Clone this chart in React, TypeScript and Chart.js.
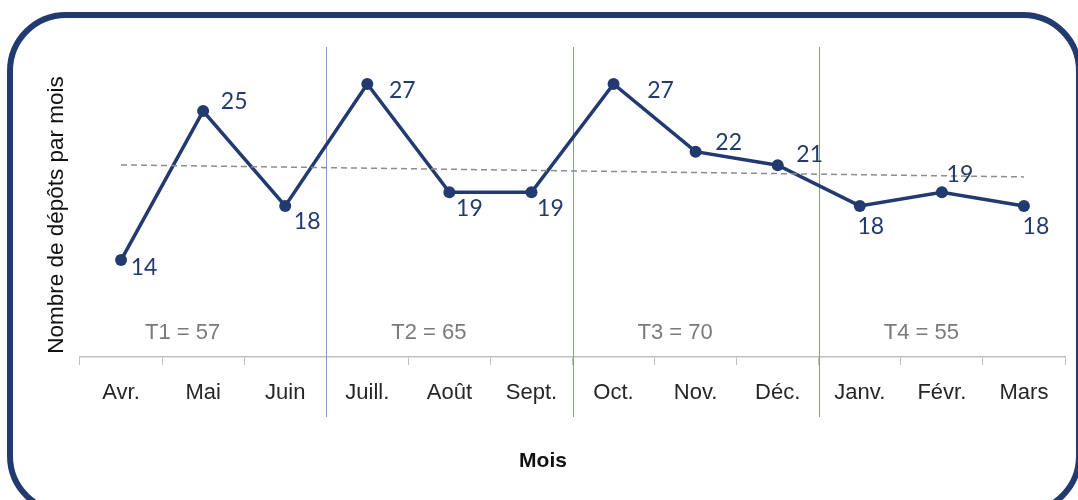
import React, { useEffect, useRef } from 'react';
import { Chart, registerables } from 'chart.js';

Chart.register(...registerables);

// ---- data ----
const months = ['Avr.', 'Mai', 'Juin', 'Juill.', 'Août', 'Sept.', 'Oct.', 'Nov.', 'Déc.', 'Janv.', 'Févr.', 'Mars'];
const deposits = [14, 25, 18, 27, 19, 19, 27, 22, 21, 18, 19, 18];
const quarterNames = ['T1', 'T2', 'T3', 'T4'];
const quarterTotals = [57, 65, 70, 55];
const yAxisTitle = 'Nombre de dépôts par mois';
const xAxisTitle = 'Mois';

// linear trend line (least squares over the monthly values), drawn between first and last month
const n = deposits.length;
const meanX = (n - 1) / 2;
const meanY = deposits.reduce((a, b) => a + b, 0) / n;
let sxy = 0;
let sxx = 0;
deposits.forEach((v, i) => {
  sxy += (i - meanX) * (v - meanY);
  sxx += (i - meanX) * (i - meanX);
});
const slope = sxy / sxx;
const intercept = meanY - slope * meanX;
const trend = deposits.map((_, i) => (i === 0 || i === n - 1 ? intercept + slope * i : null));

// ---- styles ----
const NAVY = '#223a6f';
const SEP = '#8796c6';
const labelOffsets: [number, number][] = [
  [23, 7], [31, -9], [22, 16], [35, 7], [20, 16], [19, 16],
  [47, 7], [33, -9], [32, -11], [11, 21], [18, -18], [12, 21],
];

const decorPlugin = {
  id: 'decor',
  beforeDraw(chart: any) {
    const ctx = chart.ctx;
    ctx.save();
    ctx.fillStyle = '#ffffff';
    ctx.fillRect(0, 0, chart.width, chart.height);
    // rounded frame
    ctx.strokeStyle = NAVY;
    ctx.lineWidth = 6;
    const x0 = 10, y0 = 15, x1 = 1079, y1 = 512, r = 56;
    ctx.beginPath();
    ctx.moveTo(x0 + r, y0);
    ctx.lineTo(x1 - r, y0);
    ctx.arcTo(x1, y0, x1, y0 + r, r);
    ctx.lineTo(x1, y1 - r);
    ctx.arcTo(x1, y1, x1 - r, y1, r);
    ctx.lineTo(x0 + r, y1);
    ctx.arcTo(x0, y1, x0, y1 - r, r);
    ctx.lineTo(x0, y0 + r);
    ctx.arcTo(x0, y0, x0 + r, y0, r);
    ctx.closePath();
    ctx.stroke();
    ctx.restore();
  },
  beforeDatasetsDraw(chart: any) {
    const ctx = chart.ctx;
    const xs = chart.scales.x;
    const area = chart.chartArea;
    ctx.save();
    // quarter separators
    ctx.strokeStyle = SEP;
    ctx.lineWidth = 1;
    for (let q = 1; q < quarterNames.length; q++) {
      const px = Math.round(xs.getPixelForValue(q * 3 - 0.5)) + 0.5;
      ctx.beginPath();
      ctx.moveTo(px, area.top + 1);
      ctx.lineTo(px, area.bottom + 60);
      ctx.stroke();
    }
    // quarter totals
    ctx.fillStyle = '#7a7a7a';
    ctx.font = '22px "Liberation Sans", Arial, sans-serif';
    ctx.textAlign = 'center';
    ctx.textBaseline = 'middle';
    quarterNames.forEach((name, q) => {
      const px = xs.getPixelForValue(q * 3 + 1 - 0.25);
      ctx.fillText(`${name} = ${quarterTotals[q]}`, px, area.bottom - 24);
    });
    ctx.restore();
  },
  afterDatasetsDraw(chart: any) {
    const ctx = chart.ctx;
    const meta = chart.getDatasetMeta(1);
    ctx.save();
    ctx.fillStyle = NAVY;
    ctx.font = '23px Lato, "Liberation Sans", sans-serif';
    ctx.textAlign = 'center';
    ctx.textBaseline = 'middle';
    meta.data.forEach((pt: any, i: number) => {
      const [dx, dy] = labelOffsets[i];
      ctx.fillText(String(deposits[i]), pt.x + dx, pt.y + dy);
    });
    ctx.restore();
  },
  afterDraw(chart: any) {
    const ctx = chart.ctx;
    ctx.save();
    ctx.fillStyle = '#111111';
    ctx.textAlign = 'center';
    ctx.textBaseline = 'middle';
    ctx.font = 'bold 21px "Liberation Sans", Arial, sans-serif';
    ctx.fillText(xAxisTitle, 543, 461);
    ctx.font = '22.5px "Liberation Sans", Arial, sans-serif';
    ctx.translate(57, 215);
    ctx.rotate(-Math.PI / 2);
    ctx.fillText(yAxisTitle, 0, 0);
    ctx.restore();
  },
};

export default function App() {
  const ref = useRef<HTMLCanvasElement | null>(null);
  useEffect(() => {
    if (!ref.current) return;
    const chart = new Chart(ref.current, {
      type: 'line',
      data: {
        labels: months,
        datasets: [
          {
            label: 'Tendance',
            data: trend,
            borderColor: '#8c8c8c',
            borderWidth: 1.5,
            borderDash: [6, 4],
            pointRadius: 0,
            spanGaps: true,
            fill: false,
          },
          {
            label: 'Dépôts',
            data: deposits,
            borderColor: NAVY,
            backgroundColor: NAVY,
            borderWidth: 3.5,
            pointRadius: 6,
            pointBackgroundColor: NAVY,
            pointBorderWidth: 0,
            tension: 0,
            fill: false,
          },
        ],
      },
      options: {
        responsive: false,
        animation: false,
        devicePixelRatio: 1,
        layout: { padding: { left: 80, right: 13, top: 46, bottom: 0 } },
        plugins: { legend: { display: false }, tooltip: { enabled: false } },
        scales: {
          x: {
            offset: true,
            grid: {
              display: true,
              drawOnChartArea: false,
              drawTicks: true,
              tickLength: 8,
              color: '#bfbfbf',
              offset: true,
            },
            border: { display: true, color: '#bfbfbf', width: 1.5 },
            ticks: {
              color: '#262626',
              font: { family: '"Liberation Sans", Arial, sans-serif', size: 22 },
              padding: 15,
              maxRotation: 0,
              autoSkip: false,
            },
            afterFit: (scale: any) => {
              scale.height = 143;
            },
          },
          y: {
            display: false,
            min: 6.85,
            max: 29.8,
          },
        },
      },
      plugins: [decorPlugin],
    });
    return () => chart.destroy();
  }, []);
  return (
    <div style={{ position: 'absolute', left: 0, top: 0, width: 1078, height: 500 }}>
      <canvas ref={ref} width={1078} height={500} />
    </div>
  );
}
